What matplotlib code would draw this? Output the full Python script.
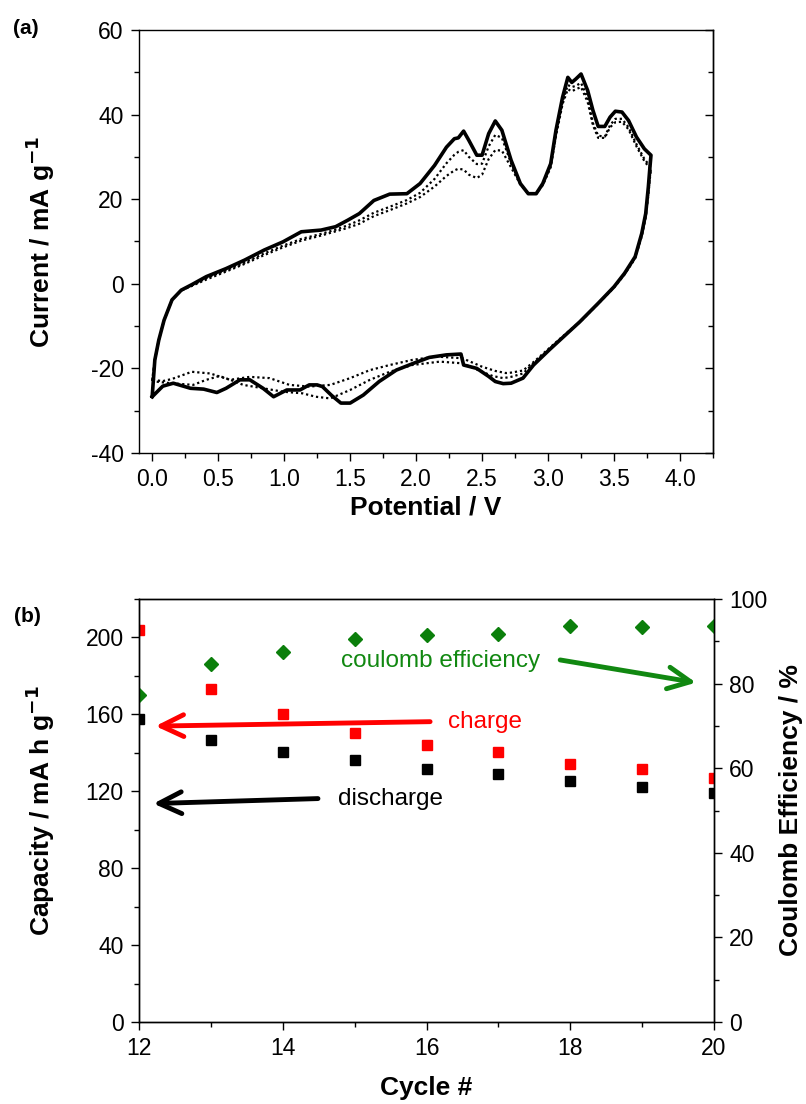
import matplotlib
matplotlib.use("Agg")
import matplotlib.pyplot as plt
from matplotlib.ticker import MultipleLocator, FormatStrFormatter

plt.rcParams['font.family'] = ['Liberation Sans', 'DejaVu Sans']
plt.rcParams['axes.unicode_minus'] = False

# ---------------- (a) cyclic voltammetry data ----------------
# anodic sweep potentials (V) shared by the three cycles
v_anodic = [0.00, 0.02, 0.05, 0.09, 0.15, 0.22, 0.30, 0.41, 0.56, 0.70, 0.85, 0.99, 1.13, 1.28,
            1.39, 1.48, 1.57, 1.68, 1.80, 1.93, 2.03, 2.14, 2.23, 2.29, 2.32, 2.36, 2.40, 2.46,
            2.50, 2.55, 2.60, 2.65, 2.72, 2.79, 2.85, 2.91, 2.96, 3.02, 3.06, 3.11, 3.15, 3.18,
            3.21, 3.25, 3.30, 3.34, 3.38, 3.43, 3.47, 3.51, 3.56, 3.61, 3.67, 3.73, 3.78]
i_anodic_c1 = [-26.6, -18.0, -13.3, -8.6, -3.8, -1.5, -0.2, 1.7, 3.6, 5.6, 8.0, 9.9, 12.3, 12.7,
               13.5, 15.0, 16.6, 19.7, 21.2, 21.3, 23.7, 28.0, 32.3, 34.3, 34.5, 36.1, 33.9, 30.4,
               30.4, 35.5, 38.5, 36.3, 29.2, 23.7, 21.3, 21.3, 23.7, 28.4, 36.3, 44.1, 48.8, 47.6,
               48.4, 49.6, 45.7, 41.0, 37.2, 37.2, 39.4, 40.8, 40.6, 38.6, 34.7, 31.9, 30.4]
i_anodic_c2 = [-22.7, -18.0, -13.3, -8.6, -3.8, -1.6, -0.4, 1.3, 3.2, 5.0, 7.2, 9.0, 10.6, 11.8,
               12.8, 13.8, 15.0, 16.8, 18.2, 19.8, 21.5, 24.8, 28.5, 30.5, 31.2, 31.6, 30.0, 28.3,
               28.4, 32.5, 35.2, 34.5, 28.5, 23.7, 21.3, 21.3, 23.5, 28.0, 35.5, 43.0, 47.0, 46.5,
               46.8, 47.5, 44.0, 38.0, 35.0, 34.8, 37.5, 39.0, 39.0, 37.0, 33.0, 29.5, 27.5]
i_anodic_c3 = [-23.0, -18.0, -13.3, -8.6, -3.8, -1.6, -0.5, 1.0, 2.9, 4.7, 6.8, 8.6, 10.2, 11.4,
               12.4, 13.2, 14.2, 16.0, 17.4, 19.0, 20.5, 23.0, 25.5, 26.8, 27.2, 27.0, 25.8, 25.0,
               25.8, 29.5, 31.6, 31.5, 27.5, 23.5, 21.3, 21.3, 23.3, 27.5, 35.0, 42.5, 46.0, 45.5,
               46.0, 46.5, 43.0, 37.5, 34.5, 34.5, 37.0, 38.2, 38.3, 36.5, 32.5, 29.0, 27.0]

# cathodic sweeps
v_cathodic_c1 = [3.78, 3.77, 3.76, 3.74, 3.71, 3.66, 3.58, 3.50, 3.38, 3.24, 3.09, 3.01, 2.89, 2.81,
                 2.72, 2.66, 2.60, 2.55, 2.46, 2.36, 2.34, 2.23, 2.10, 1.98, 1.85, 1.72, 1.60, 1.50,
                 1.43, 1.36, 1.29, 1.25, 1.19, 1.12, 1.02, 0.92, 0.84, 0.74, 0.665, 0.56, 0.49,
                 0.39, 0.29, 0.16, 0.08, 0.00]
i_cathodic_c1 = [30.4, 26.8, 22.9, 16.6, 11.9, 6.4, 2.5, -0.7, -4.6, -9.0, -13.3, -15.6, -19.2, -22.3,
                 -23.5, -23.6, -23.1, -21.9, -20.0, -19.2, -16.6, -16.8, -17.4, -18.8, -20.4, -23.1,
                 -26.3, -28.2, -28.2, -26.4, -24.3, -23.9, -23.9, -25.1, -25.1, -26.7, -24.7, -22.7,
                 -22.7, -24.7, -25.7, -24.9, -24.7, -23.5, -24.2, -26.7]
v_cathodic_c2 = [3.78, 3.77, 3.76, 3.74, 3.71, 3.66, 3.58, 3.50, 3.38, 3.24, 3.09, 3.01, 2.89, 2.81,
                 2.72, 2.68, 2.60, 2.50, 2.35, 2.15, 1.97, 1.80, 1.65, 1.50, 1.35, 1.19, 1.04, 0.89,
                 0.74, 0.59, 0.44, 0.30, 0.15, 0.08, 0.00]
i_cathodic_c2 = [27.5, 25.0, 21.5, 16.0, 11.5, 6.2, 2.3, -0.8, -4.6, -9.0, -13.0, -15.2, -18.5, -20.5,
                 -21.0, -21.1, -20.6, -19.6, -17.6, -17.2, -18.0, -19.2, -20.4, -22.3, -23.9, -24.3,
                 -23.9, -22.3, -22.0, -22.7, -21.2, -20.8, -22.5, -23.0, -22.7]
v_cathodic_c3 = [3.78, 3.77, 3.76, 3.74, 3.71, 3.66, 3.58, 3.50, 3.38, 3.24, 3.09, 3.01, 2.89, 2.81,
                 2.72, 2.66, 2.58, 2.50, 2.35, 2.18, 1.97, 1.80, 1.65, 1.50, 1.35, 1.24, 1.14, 0.99,
                 0.84, 0.69, 0.60, 0.51, 0.41, 0.31, 0.14, 0.05, 0.00]
i_cathodic_c3 = [27.0, 24.5, 21.0, 15.6, 11.2, 6.0, 2.2, -0.9, -4.7, -9.1, -13.2, -15.4, -18.8, -21.2,
                 -22.0, -22.3, -21.8, -20.8, -18.8, -18.4, -19.2, -20.8, -22.7, -25.1, -27.1, -26.7,
                 -25.9, -25.5, -24.7, -23.9, -22.8, -21.8, -22.7, -23.9, -23.5, -23.2, -23.0]

# ---------------- (b) cycling data ----------------
cycles = [12, 13, 14, 15, 16, 17, 18, 19, 20]
charge_capacity = [203.7, 173.2, 160.0, 150.3, 144.3, 140.5, 134.3, 131.5, 127.1]
discharge_capacity = [157.7, 146.6, 140.2, 136.2, 131.5, 128.9, 125.4, 122.3, 119.3]
coulomb_efficiency = [77.4, 84.6, 87.5, 90.5, 91.5, 91.7, 93.5, 93.3, 93.7]

W, H = 806, 1104
fig = plt.figure(figsize=(W / 100, H / 100), dpi=100)

def frac_axes(x0, y0, x1, y1):
    return fig.add_axes([x0 / W, 1 - y1 / H, (x1 - x0) / W, (y1 - y0) / H])

FS = 16.5      # tick labels
LFS = 19       # axis labels
AFS = 17.5     # annotations
TICK_KW = dict(labelsize=FS, width=1.0, pad=5)

# ---------------- panel (a) ----------------
ax = frac_axes(139, 30, 713, 453)
ax.plot(v_anodic + v_cathodic_c2, i_anodic_c2 + i_cathodic_c2, color='black', lw=1.6, ls=(0, (1, 1.3)))
ax.plot(v_anodic + v_cathodic_c3, i_anodic_c3 + i_cathodic_c3, color='black', lw=1.6, ls=(0, (1, 1.3)))
ax.plot(v_anodic + v_cathodic_c1, i_anodic_c1 + i_cathodic_c1, color='black', lw=2.6,
        solid_joinstyle='round')
ax.set_xlim(-0.1, 4.25)
ax.set_ylim(-40, 60)
ax.xaxis.set_major_locator(MultipleLocator(0.5))
ax.xaxis.set_minor_locator(MultipleLocator(0.25))
ax.yaxis.set_major_locator(MultipleLocator(20))
ax.yaxis.set_minor_locator(MultipleLocator(10))
ax.xaxis.set_major_formatter(FormatStrFormatter('%.1f'))
ax.tick_params(which='major', direction='out', length=6, **TICK_KW)
ax.tick_params(which='minor', direction='out', length=3.5, width=1.0)
sec = ax.secondary_yaxis('right')
sec.yaxis.set_major_locator(MultipleLocator(20))
sec.yaxis.set_minor_locator(MultipleLocator(10))
sec.tick_params(which='major', direction='in', length=6, width=1.0, labelright=False)
sec.tick_params(which='minor', direction='in', length=3.5, width=1.0)
sec.spines['right'].set_linewidth(1.0)
for s in ax.spines.values():
    s.set_linewidth(1.0)
ax.set_xlabel('Potential / V', fontsize=LFS, fontweight='bold')
ax.set_ylabel('Current / mA g$^{\\mathbf{-1}}$', fontsize=LFS, fontweight='bold')
ax.xaxis.set_label_coords(0.5, -0.1)
ax.yaxis.set_label_coords(-0.143, 0.5)
fig.text(26 / W, 1 - 28 / H, '(a)', fontsize=15, fontweight='bold', ha='center', va='center')

# ---------------- panel (b) ----------------
axb = frac_axes(139, 599, 714, 1022)
axb.plot(cycles, charge_capacity, ls='none', marker='s', ms=7, color='#ff0000', mec='#ff0000')
axb.plot(cycles, discharge_capacity, ls='none', marker='s', ms=7, color='black')
axb.set_xlim(12, 20)
axb.set_ylim(0, 220)
axb.xaxis.set_major_locator(MultipleLocator(2))
axb.xaxis.set_minor_locator(MultipleLocator(1))
axb.yaxis.set_major_locator(MultipleLocator(40))
axb.yaxis.set_minor_locator(MultipleLocator(20))
axb.tick_params(which='major', direction='out', length=6, **TICK_KW)
axb.tick_params(which='minor', direction='out', length=3.5, width=1.0)
for s in axb.spines.values():
    s.set_linewidth(1.0)

axr = axb.twinx()
axr.plot(cycles, coulomb_efficiency, ls='none', marker='D', ms=7, color='#0b7f0b')
axr.set_ylim(0, 100)
axr.yaxis.set_major_locator(MultipleLocator(20))
axr.yaxis.set_minor_locator(MultipleLocator(10))
axr.tick_params(which='major', direction='out', length=6, **TICK_KW)
axr.tick_params(which='minor', direction='out', length=3.5, width=1.0)
for s in axr.spines.values():
    s.set_linewidth(1.0)

axb.set_xlabel('Cycle #', fontsize=LFS, fontweight='bold')
axb.set_ylabel('Capacity / mA h g$^{\\mathbf{-1}}$', fontsize=LFS, fontweight='bold')
axr.set_ylabel('Coulomb Efficiency / %', fontsize=LFS, fontweight='bold')
axb.xaxis.set_label_coords(0.5, -0.128)
axb.yaxis.set_label_coords(-0.143, 0.5)
axr.yaxis.set_label_coords(1.113, 0.5)
fig.text(27 / W, 1 - 616 / H, '(b)', fontsize=15, fontweight='bold', ha='center', va='center')

# annotations
green = '#118811'
arrow_style = '->, head_length=0.58, head_width=0.28'
axb.text(16.2, 187.5, 'coulomb efficiency', color=green, fontsize=AFS, ha='center', va='center')
axb.annotate('', xy=(19.75, 176.5), xytext=(17.86, 188.3),
             arrowprops=dict(arrowstyle=arrow_style, color=green, lw=3.5, mutation_scale=28,
                             shrinkA=0, shrinkB=0))
axb.text(16.82, 156.2, 'charge', color='#ff0000', fontsize=AFS, ha='center', va='center')
axb.annotate('', xy=(12.23, 153.9), xytext=(16.05, 156.2),
             arrowprops=dict(arrowstyle=arrow_style, color='#ff0000', lw=3.5, mutation_scale=28,
                             shrinkA=0, shrinkB=0))
axb.text(15.5, 116.2, 'discharge', color='black', fontsize=AFS, ha='center', va='center')
axb.annotate('', xy=(12.2, 113.6), xytext=(14.49, 116.2),
             arrowprops=dict(arrowstyle=arrow_style, color='black', lw=3.5, mutation_scale=28,
                             shrinkA=0, shrinkB=0))

fig.savefig('out.png', dpi=100)
